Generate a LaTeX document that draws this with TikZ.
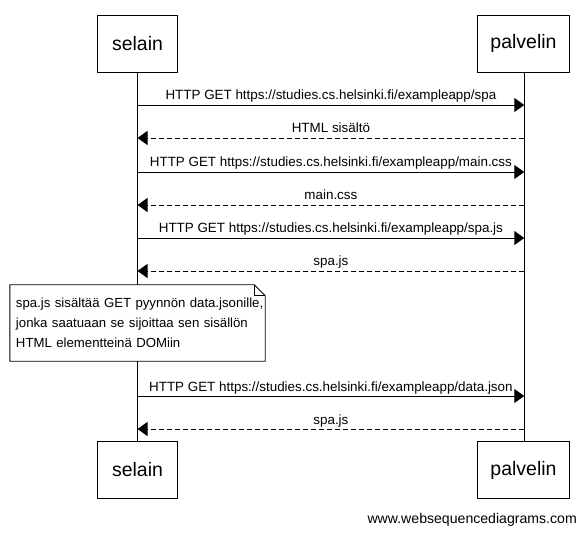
\documentclass[tikz,border=0pt]{standalone}
\usepackage{fontspec}
\setmainfont{Liberation Sans}
\usetikzlibrary{arrows.meta}
\begin{document}
\begin{tikzpicture}[x=1pt,y=-1pt,
  actor/.style={draw,line width=0.9pt,minimum height=57pt,inner sep=0pt,font=\fontsize{19.5}{24}\selectfont},
  lifeline/.style={line width=0.9pt},
  call/.style={line width=0.9pt,-{Triangle[length=10pt,width=14pt]}},
  reply/.style={call,dash pattern=on 5pt off 3pt},
  msg/.style={font=\fontsize{13.4}{15}\selectfont,inner sep=0pt,anchor=base,yshift=5pt},
  notebox/.style={font=\fontsize{13.2}{20}\selectfont,align=left,text width=243pt,
    minimum width=255pt,minimum height=76pt,inner sep=0pt,inner xsep=6pt},
  notepen/.style={line width=0.9pt,line join=miter}]
\useasboundingbox (0,0) rectangle (586,534);

% participants, top and bottom
\node[actor,minimum width=80pt] (s1) at (137.5,43.5) {selain};
\node[actor,minimum width=92pt] (p1) at (523.5,43.5) {palvelin};
\node[actor,minimum width=80pt] (s2) at (137.5,470) {selain};
\node[actor,minimum width=92pt] (p2) at (523.5,470) {palvelin};

% lifelines
\coordinate (px) at (524.3,0);
\draw[lifeline] (s1.south) -- (s2.north);
\draw[lifeline] (p1.south -| px) -- (p2.north -| px);

% message rows on both lifelines
\foreach \n/\y in {1/105,2/138,3/172,4/205,5/238,6/271,7/396,8/429}{
  \coordinate (a\n) at (137.5,\y);
  \coordinate (b\n) at (524.3,\y);
}

\draw[call]  (a1) -- node[msg] (m1) {HTTP GET https://studies.cs.helsinki.fi/exampleapp/spa} (b1);
\draw[reply] (b2) -- node[msg] (m2) {HTML sisältö} (a2);
\draw[call]  (a3) -- node[msg] (m3) {HTTP GET https://studies.cs.helsinki.fi/exampleapp/main.css} (b3);
\draw[reply] (b4) -- node[msg] (m4) {main.css} (a4);
\draw[call]  (a5) -- node[msg] (m5) {HTTP GET https://studies.cs.helsinki.fi/exampleapp/spa.js} (b5);
\draw[reply] (b6) -- node[msg] (m6) {spa.js} (a6);

% note over the browser lifeline
\node[notebox,fill=white] (n) at (137.5,323) {\mbox{spa.js sisältää GET pyynnön data.jsonille,}\\\mbox{jonka saatuaan se sijoittaa sen sisällön}\\\mbox{HTML elementteinä DOMiin}};
\draw[notepen] (n.north west) -- ([xshift=-11pt]n.north east) -- ([yshift=-11pt]n.north east)
  -- (n.south east) -- (n.south west) -- cycle;
\draw[notepen] ([xshift=-11pt]n.north east) -- ([xshift=-11pt,yshift=-11pt]n.north east)
  -- ([yshift=-11pt]n.north east);

\draw[call]  (a7) -- node[msg] (m7) {HTTP GET https://studies.cs.helsinki.fi/exampleapp/data.json} (b7);
\draw[reply] (b8) -- node[msg] (m8) {spa.js} (a8);

% footer
\node[font=\fontsize{14.1}{16}\selectfont,anchor=base east,inner sep=0pt] (footer) at (577,523) {www.websequencediagrams.com};

\end{tikzpicture}
\end{document}
